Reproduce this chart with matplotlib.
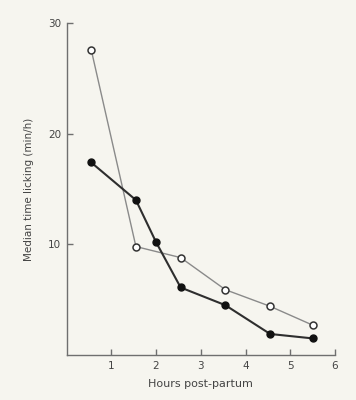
import matplotlib
matplotlib.use("Agg")
import matplotlib.pyplot as plt

# hours post-partum (bin midpoints as drawn)
hours_open = [0.55, 1.55, 2.55, 3.55, 4.55, 5.5]
lick_open = [27.6, 9.8, 8.8, 5.9, 4.4, 2.7]

hours_filled = [0.55, 1.55, 2.0, 2.55, 3.55, 4.55, 5.5]
lick_filled = [17.4, 14.0, 10.2, 6.1, 4.5, 1.9, 1.5]

x_ticks = [1, 2, 3, 4, 5, 6]
y_ticks = [10, 20, 30]

bg = '#f6f5ef'
fig = plt.figure(figsize=(3.56, 4.0), dpi=100, facecolor=bg)
ax = fig.add_axes([0.187, 0.1125, 0.754, 0.83], facecolor=bg)

ax.plot(hours_open, lick_open, color='#8a8a8a', lw=1.0, zorder=2,
        marker='o', ms=5, mfc='white', mec='#333333', mew=1.1)
ax.plot(hours_filled, lick_filled, color='#2e2e2e', lw=1.5, zorder=3,
        marker='o', ms=5, mfc='#111111', mec='#111111')

ax.set_xlim(0, 6)
ax.set_ylim(0, 30)
ax.set_xticks(x_ticks)
ax.set_yticks(y_ticks)

for s in ['top', 'right']:
    ax.spines[s].set_visible(False)
for s in ['left', 'bottom']:
    ax.spines[s].set_color('#6f6f6f')
    ax.spines[s].set_linewidth(1.0)

ax.tick_params(direction='in', length=4, width=1.0, color='#6f6f6f',
               labelsize=7.5, labelcolor='#444444', pad=4)

ax.set_xlabel('Hours post-partum', fontsize=8, color='#444444', labelpad=6)
ax.set_ylabel('Median time licking (min/h)', fontsize=7.5, color='#444444', labelpad=10)

fig.savefig('out.png', dpi=100, facecolor=bg)
